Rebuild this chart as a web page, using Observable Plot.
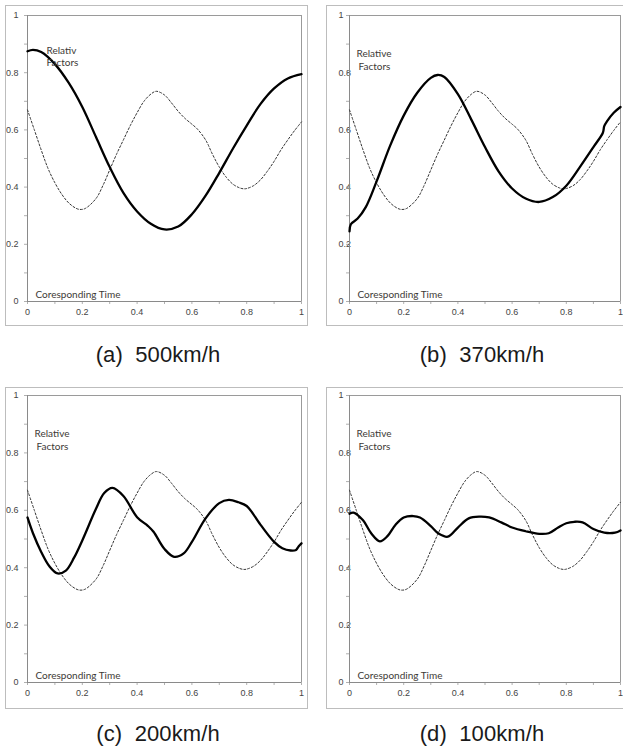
<!DOCTYPE html>
<html><head><meta charset="utf-8">
<script src="https://cdn.jsdelivr.net/npm/d3@7"></script>
<script src="https://cdn.jsdelivr.net/npm/@observablehq/plot@0.6"></script>
<style>
body{margin:0;background:#fff;overflow:hidden;}
#root{position:relative;width:623px;height:749px;overflow:hidden;background:#fff;}
.panel{position:absolute;border:1px solid #bdbdbd;box-sizing:border-box;background:#fff;}
.panel svg{display:block;}
.cap{position:absolute;font-family:"Liberation Sans",Arial,sans-serif;font-size:22px;letter-spacing:0.1px;color:#1a1a1a;text-align:center;white-space:pre;width:240px;line-height:24px;}
</style></head><body><div id="root"></div>
<script>
// ---- data ----
const majorTicks = [0, 0.2, 0.4, 0.6, 0.8, 1];
const minorTicks = [0, 0.1, 0.2, 0.3, 0.4, 0.5, 0.6, 0.7, 0.8, 0.9, 1];

// reference (dotted) curve, identical in every panel
const tRef = [0,0.025,0.05,0.075,0.1,0.125,0.15,0.175,0.19,0.21,0.25,0.275,0.3,0.325,0.35,0.375,0.4,0.425,0.45,0.47,0.5,0.525,0.55,0.575,0.6,0.62,0.65,0.675,0.7,0.725,0.75,0.775,0.79,0.8,0.825,0.85,0.875,0.9,0.925,0.95,0.975,1];
const refValues = [0.67,0.60,0.53,0.465,0.415,0.375,0.345,0.327,0.322,0.325,0.36,0.405,0.46,0.515,0.565,0.615,0.66,0.70,0.725,0.735,0.722,0.695,0.665,0.64,0.62,0.603,0.565,0.515,0.47,0.435,0.41,0.397,0.394,0.395,0.405,0.425,0.455,0.49,0.53,0.565,0.598,0.628];

// (a) 500km/h
const tA = [0,0.02,0.05,0.1,0.15,0.2,0.25,0.3,0.35,0.4,0.45,0.5,0.55,0.6,0.65,0.7,0.75,0.8,0.85,0.9,0.95,1];
const solidA = [0.875,0.88,0.872,0.83,0.765,0.68,0.575,0.47,0.38,0.315,0.272,0.252,0.262,0.305,0.37,0.45,0.535,0.615,0.69,0.745,0.78,0.795];
// (b) 370km/h
const tB = [0,0.005,0.03,0.06,0.1,0.15,0.2,0.25,0.3,0.325,0.35,0.4,0.45,0.5,0.55,0.6,0.65,0.7,0.75,0.8,0.85,0.9,0.935,0.94,0.95,0.975,1];
const solidB = [0.245,0.27,0.29,0.33,0.42,0.545,0.65,0.73,0.782,0.792,0.785,0.725,0.635,0.54,0.455,0.395,0.36,0.348,0.365,0.405,0.47,0.54,0.59,0.613,0.63,0.66,0.68];
// (c) 200km/h
const tC = [0,0.02,0.05,0.08,0.11,0.14,0.17,0.2,0.25,0.28,0.31,0.35,0.4,0.44,0.46,0.5,0.535,0.57,0.6,0.65,0.7,0.735,0.77,0.8,0.85,0.9,0.93,0.96,0.98,0.99,1];
const solidC = [0.575,0.52,0.455,0.405,0.38,0.39,0.435,0.495,0.605,0.66,0.678,0.65,0.576,0.545,0.525,0.465,0.438,0.45,0.49,0.572,0.625,0.636,0.628,0.615,0.55,0.49,0.468,0.46,0.462,0.475,0.485];
// (d) 100km/h
const tD = [0,0.015,0.05,0.08,0.112,0.14,0.17,0.2,0.235,0.26,0.3,0.33,0.363,0.4,0.44,0.48,0.515,0.56,0.6,0.65,0.7,0.735,0.77,0.8,0.83,0.86,0.9,0.94,0.98,1];
const solidD = [0.588,0.592,0.565,0.52,0.492,0.51,0.55,0.575,0.58,0.575,0.545,0.518,0.508,0.54,0.572,0.578,0.575,0.558,0.54,0.527,0.518,0.52,0.54,0.555,0.56,0.558,0.535,0.522,0.522,0.53];

const captions = ["(a)  500km/h", "(b)  370km/h", "(c)  200km/h", "(d)  100km/h"];
const topLabels = ["Relativ", "Relative", "Relative", "Relative"];
const secondLabel = "Factors";
const bottomLabel = "Coresponding Time";
const times = [tA, tB, tC, tD];
const solids = [solidA, solidB, solidC, solidD];

// ---- layout ----
const layout = [
  {left:5, top:5, w:303, h:321, ml:21, mr:6, mt:9, mb:24, labDx:19, labDy1:35, labDy2:47, f2dx:19, right:false, cx:158, cy:355},
  {left:326, top:5, w:300, h:321, ml:22, mr:5, mt:9, mb:24, labDx:7, labDy1:38, labDy2:51, f2dx:9, right:true, cx:482, cy:355},
  {left:5, top:387, w:303, h:322, ml:21, mr:6, mt:7, mb:26, labDx:7, labDy1:38, labDy2:51, f2dx:9, right:false, cx:158, cy:734},
  {left:326, top:387, w:300, h:322, ml:22, mr:5, mt:7, mb:26, labDx:7, labDy1:38, labDy2:51, f2dx:9, right:true, cx:482, cy:734}
];

const fmt = d => String(d);
const root = document.getElementById("root");
const refData = tRef.map((t, i) => ({t, v: refValues[i]}));

layout.forEach((L, k) => {
  const data = times[k].map((t, i) => ({t, v: solids[k][i]}));
  const yText = L.right
    ? Plot.axisY({ticks: majorTicks, tickFormat: fmt, tickSize: 0, tickPadding: 11, textAnchor: "start", label: null, fill: "#444"})
    : Plot.axisY({ticks: majorTicks, tickFormat: fmt, tickSize: 0, tickPadding: 9, label: null, fill: "#444"});
  const chart = Plot.plot({
    width: L.w - 2, height: L.h - 2,
    marginLeft: L.ml, marginRight: L.mr, marginTop: L.mt, marginBottom: L.mb,
    x: {domain: [0, 1]},
    y: {domain: [0, 1]},
    style: {fontFamily: "'Liberation Sans', Arial, sans-serif", fontSize: "9px", background: "white", color: "#444"},
    marks: [
      Plot.frame({stroke: "#9a9a9a"}),
      Plot.axisY({ticks: minorTicks, tickSize: 3, tickFormat: () => "", label: null, stroke: "#b0b0b0"}),
      Plot.axisX({ticks: minorTicks, tickSize: 3, tickFormat: () => "", label: null, stroke: "#b0b0b0"}),
      yText,
      Plot.axisX({ticks: majorTicks, tickFormat: fmt, tickSize: 0, tickPadding: 7, label: null, fill: "#444"}),
      Plot.ruleX([0], {stroke: "#8a8a8a"}),
      Plot.ruleY([0], {stroke: "#8a8a8a"}),
      Plot.line(refData, {x: "t", y: "v", stroke: "#333", strokeWidth: 1, strokeDasharray: "2,2", curve: "catmull-rom"}),
      Plot.line(data, {x: "t", y: "v", stroke: "#000", strokeWidth: 2.3, curve: "catmull-rom"}),
      Plot.text([topLabels[k]], {text: d => d, frameAnchor: "top-left", dx: L.labDx, dy: L.labDy1, textAnchor: "start", lineAnchor: "middle", fontSize: 10, fill: "#3d3a36", fontFamily: "Lato, sans-serif"}),
      Plot.text([secondLabel], {text: d => d, frameAnchor: "top-left", dx: L.f2dx, dy: L.labDy2, textAnchor: "start", lineAnchor: "middle", fontSize: 10, fill: "#3d3a36", fontFamily: "Lato, sans-serif"}),
      Plot.text([bottomLabel], {text: d => d, frameAnchor: "bottom-left", dx: 8, dy: -7, textAnchor: "start", lineAnchor: "middle", fontSize: 10, fill: "#3d3a36", fontFamily: "Lato, sans-serif"})
    ]
  });
  const div = document.createElement("div");
  div.className = "panel";
  div.style.left = L.left + "px";
  div.style.top = L.top + "px";
  div.style.width = L.w + "px";
  div.style.height = L.h + "px";
  div.appendChild(chart);
  root.appendChild(div);

  const cap = document.createElement("div");
  cap.className = "cap";
  cap.textContent = captions[k];
  cap.style.left = (L.cx - 120) + "px";
  cap.style.top = (L.cy - 12) + "px";
  root.appendChild(cap);
});
</script>
</body></html>
